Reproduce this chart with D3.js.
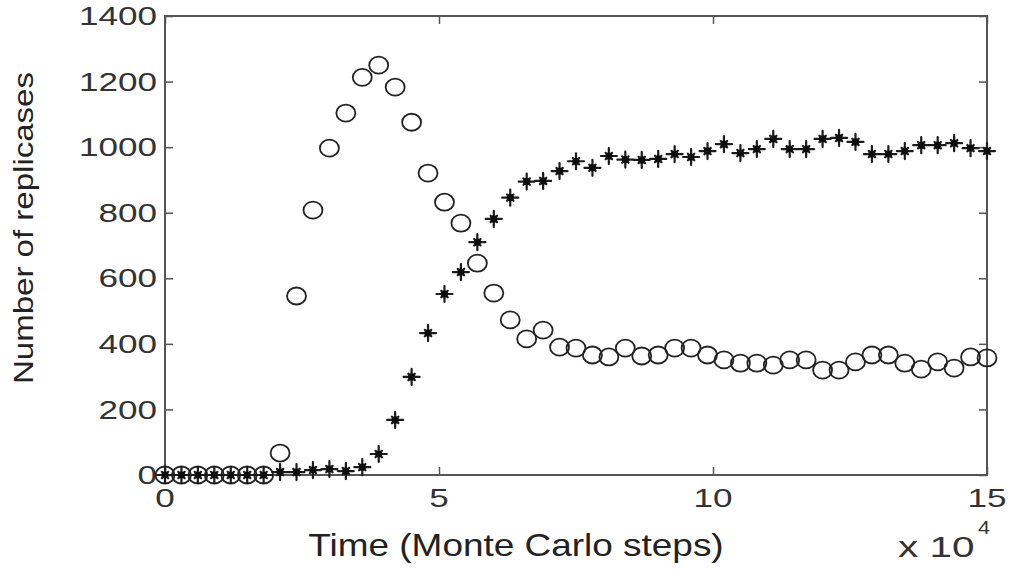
<!DOCTYPE html>
<html>
<head>
<meta charset="utf-8">
<script src="https://cdn.jsdelivr.net/npm/d3@7"></script>
<style>
  html, body { margin: 0; padding: 0; background: #fff; }
  svg { display: block; }
</style>
</head>
<body>
<svg id="chart" width="1010" height="573"></svg>
<script>
// Time in units of 10^4 Monte Carlo steps
const steps = [0, 0.3, 0.6, 0.9, 1.2, 1.5, 1.8, 2.1, 2.4, 2.7, 3.0, 3.3, 3.6, 3.9, 4.2, 4.5, 4.8,
  5.1, 5.4, 5.7, 6.0, 6.3, 6.6, 6.9, 7.2, 7.5, 7.8, 8.1, 8.4, 8.7, 9.0, 9.3, 9.6, 9.9,
  10.2, 10.5, 10.8, 11.1, 11.4, 11.7, 12.0, 12.3, 12.6, 12.9, 13.2, 13.5, 13.8, 14.1, 14.4, 14.7, 15.0];

// open circles
const circleSeries = [0, 0, 0, 0, 0, 0, 0, 67, 546, 808, 997, 1104, 1213, 1250, 1183, 1076, 921,
  832, 768, 646, 555, 473, 415, 442, 390, 387, 366, 360, 387, 363, 366, 387, 387, 366,
  351, 341, 341, 335, 351, 351, 320, 320, 345, 366, 366, 341, 323, 345, 326, 360, 357];

// stars
const starSeries = [0, 0, 0, 0, 0, 0, 0, 9, 9, 15, 18, 12, 24, 64, 168, 299, 433,
  552, 619, 710, 781, 846, 895, 897, 927, 957, 937, 973, 962, 961, 964, 979, 970, 988,
  1009, 982, 994, 1025, 994, 994, 1025, 1028, 1016, 979, 979, 988, 1006, 1006, 1012, 997, 988];

const xTicks = [0, 5, 10, 15];
const yTicks = [0, 200, 400, 600, 800, 1000, 1200, 1400];
const xLabel = "Time (Monte Carlo steps)";
const yLabel = "Number of replicases";

const svg = d3.select("#chart");
const M = { left: 165, top: 16, right: 1010 - 987, bottom: 573 - 475 };
const W = 1010 - M.left - M.right, H = 573 - M.top - M.bottom;

const x = d3.scaleLinear().domain([0, 15]).range([M.left, M.left + W]);
const y = d3.scaleLinear().domain([0, 1400]).range([M.top + H, M.top]);

const axisColor = "#555";
const font = "'Liberation Sans', Arial, Helvetica, sans-serif";

// ticks (inward, on all four sides) via d3 axes without labels
const tk = 8;
svg.append("g").attr("transform", `translate(0,${M.top + H})`)
  .call(d3.axisBottom(x).tickValues(xTicks).tickSize(-tk).tickFormat(""));
svg.append("g").attr("transform", `translate(0,${M.top})`)
  .call(d3.axisTop(x).tickValues(xTicks).tickSize(-tk).tickFormat(""));
svg.append("g").attr("transform", `translate(${M.left},0)`)
  .call(d3.axisLeft(y).tickValues(yTicks).tickSize(-tk).tickFormat(""));
svg.append("g").attr("transform", `translate(${M.left + W},0)`)
  .call(d3.axisRight(y).tickValues(yTicks).tickSize(-tk).tickFormat(""));
svg.selectAll(".domain").remove();
svg.selectAll(".tick line").attr("stroke", axisColor).attr("stroke-width", 1.5);

// box
svg.append("rect").attr("x", M.left).attr("y", M.top).attr("width", W).attr("height", H)
  .attr("fill", "none").attr("stroke", axisColor).attr("stroke-width", 2);

// tick labels
const sx = 1.35;
svg.append("g").selectAll("text").data(yTicks).join("text")
  .attr("transform", d => `translate(157,${y(d)}) scale(${sx},1)`)
  .attr("dy", "0.35em").attr("text-anchor", "end")
  .attr("font-family", font).attr("font-size", 26).attr("fill", "#333")
  .text(d => d);
svg.append("g").selectAll("text").data(xTicks).join("text")
  .attr("transform", d => `translate(${x(d)},507) scale(${sx},1)`)
  .attr("text-anchor", "middle")
  .attr("font-family", font).attr("font-size", 26).attr("fill", "#333")
  .text(d => d);

// axis labels
svg.append("text")
  .attr("transform", `translate(516,556) scale(1.155,1)`)
  .attr("text-anchor", "middle").attr("font-family", font).attr("font-size", 32)
  .attr("fill", "#222").text(xLabel);
svg.append("text")
  .attr("transform", `translate(33,228) rotate(-90) scale(1.18,1)`)
  .attr("text-anchor", "middle").attr("font-family", font).attr("font-size", 28)
  .attr("fill", "#222").text(yLabel);

// exponent
svg.append("text").attr("transform", "translate(898,557) scale(1.35,1)")
  .attr("font-family", font).attr("font-size", 30).attr("fill", "#333").text("x 10");
svg.append("text").attr("transform", "translate(978,534) scale(1.2,1)")
  .attr("font-family", font).attr("font-size", 18).attr("fill", "#333").text("4");

// soft blur to mimic the scanned look
const defs = svg.append("defs");
defs.append("filter").attr("id", "soft").append("feGaussianBlur").attr("stdDeviation", 0.6);

const data = steps.map((t, i) => ({ t, c: circleSeries[i], s: starSeries[i] }));

// circles
svg.append("g").attr("filter", "url(#soft)").selectAll("ellipse").data(data).join("ellipse")
  .attr("cx", d => x(d.t)).attr("cy", d => y(d.c))
  .attr("rx", 9.5).attr("ry", 8.5)
  .attr("fill", "none").attr("stroke", "#222").attr("stroke-width", 1.8);

// stars (four-pointed look of the blurred '*' marker)
const starPath = "M-8,0L8,0M0,-8L0,8M-3.2,-3.2L3.2,3.2M-3.2,3.2L3.2,-3.2";
const sg = svg.append("g").attr("filter", "url(#soft)").selectAll("g").data(data).join("g")
  .attr("transform", d => `translate(${x(d.t)},${y(d.s)})`);
sg.append("path").attr("d", starPath).attr("stroke", "#1a1a1a").attr("stroke-width", 2.2)
  .attr("stroke-linecap", "round").attr("fill", "none");
sg.append("circle").attr("r", 3.6).attr("fill", "#111");
</script>
</body>
</html>
